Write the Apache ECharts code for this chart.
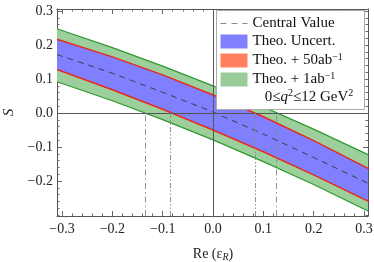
<!DOCTYPE html>
<html><head><meta charset="utf-8">
<script src="https://cdn.jsdelivr.net/npm/echarts@6/dist/echarts.min.js"></script>
<style>html,body{margin:0;padding:0;background:#fff}#c{width:374px;height:262px}</style>
</head><body><div id="c"></div><script>
// ---- data ----
const xs         = [-0.31, -0.2, -0.1, 0, 0.1, 0.2, 0.31];
const central    = [0.172, 0.117, 0.061, 0.003, -0.062, -0.131, -0.208];
const greenUpper = [0.248, 0.1925, 0.138, 0.080, 0.018, -0.0475, -0.124];
const redUpper   = [0.217, 0.165, 0.112, 0.053, -0.011, -0.081, -0.164];
const redLower   = [0.128, 0.0685, 0.011, -0.050, -0.114, -0.182, -0.261];
const greenLower = [0.092, 0.036, -0.0195, -0.079, -0.143, -0.2105, -0.290];
const crossX     = [-0.135, -0.084, 0.084, 0.125];
const crossDash  = [[6,3,1.5,3],[5,2,1.5,2,1.5,2],[5,2,1.5,2,1.5,2],[6,3,1.5,3]];
const xMajor = [-0.3, -0.2, -0.1, 0, 0.1, 0.2, 0.3];
const xMinor = [-0.28,-0.26,-0.24,-0.22,-0.18,-0.16,-0.14,-0.12,-0.08,-0.06,-0.04,-0.02,
                0.02,0.04,0.06,0.08,0.12,0.14,0.16,0.18,0.22,0.24,0.26,0.28];
const yMajor = [-0.2, -0.1, 0, 0.1, 0.2, 0.3];
const yMinor = [-0.3,-0.28,-0.26,-0.24,-0.22,-0.18,-0.16,-0.14,-0.12,-0.08,-0.06,-0.04,-0.02,
                0.02,0.04,0.06,0.08,0.12,0.14,0.16,0.18,0.22,0.24,0.26,0.28];
const X_MIN = -0.31, X_MAX = 0.308, Y_MIN = -0.303, Y_MAX = 0.306;

const pts = a => xs.map((x,i)=>[x,a[i]]);
const FONT = 'Liberation Serif';
const fmt = v => (v < 0 ? '\u2212' : '') + Math.abs(v).toFixed(1);

function xAx(pos, values, len, labels, line){
  return {type:'value', min:X_MIN, max:X_MAX, position:pos,
    axisLine:{show:line, onZero:false, lineStyle:{color:'#555', width:1}},
    splitLine:{show:false},
    axisTick:{show:true, inside:true, length:len, customValues:values, lineStyle:{color:'#666'}},
    axisLabel:{show:labels, customValues:values, formatter:fmt, fontFamily:FONT, fontSize:14, color:'#222', margin:6}};
}
function yAx(pos, values, len, labels, line){
  return {type:'value', min:Y_MIN, max:Y_MAX, position:pos,
    axisLine:{show:line, onZero:false, lineStyle:{color:'#555', width:1}},
    splitLine:{show:false},
    axisTick:{show:true, inside:true, length:len, customValues:values, lineStyle:{color:'#666'}},
    axisLabel:{show:labels, customValues:values, formatter:fmt, fontFamily:FONT, fontSize:14, color:'#222', margin:4}};
}
const xAxes = [xAx('bottom', xMajor, 5, true, true), xAx('bottom', xMinor, 2.5, false, false),
               xAx('top', xMajor, 5, false, true), xAx('top', xMinor, 2.5, false, false)];
const yAxes = [yAx('left', yMajor, 5, true, true), yAx('left', yMinor, 2.5, false, false),
               yAx('right', yMajor, 5, false, true), yAx('right', yMinor, 2.5, false, false)];
yAxes[0].name = 'S';
yAxes[0].nameLocation = 'middle';
yAxes[0].nameGap = 40;
yAxes[0].nameTextStyle = {fontFamily:FONT, fontStyle:'italic', fontSize:15, color:'#222'};

const GREEN_FILL = '#9ccf9c', GREEN_LINE = '#2f9a2f', BLUE_FILL = '#8080ff', RED_LINE = '#e8281e';
const noSym = {showSymbol:false, symbol:'none', smooth:false, silent:true, animation:false};

function band(name, upper, lower, color, z){
  return {type:'custom', name:name, data:[0], silent:true, animation:false, z:z, clip:true,
    renderItem:(params, api) => {
      const up = xs.map((x,i)=>api.coord([x, upper[i]]));
      const lo = xs.map((x,i)=>api.coord([x, lower[i]])).reverse();
      return {type:'polygon', shape:{points:up.concat(lo)}, style:{fill:color, stroke:null}};
    }};
}

const series = [
  band('Theo1', greenUpper, greenLower, GREEN_FILL, 1),
  band('Theo. Uncert.', redUpper, redLower, BLUE_FILL, 2),
  Object.assign({type:'line', name:'gUp', data:pts(greenUpper), lineStyle:{color:GREEN_LINE, width:1.2}, z:3}, noSym),
  Object.assign({type:'line', name:'gLo', data:pts(greenLower), lineStyle:{color:GREEN_LINE, width:1.2}, z:3}, noSym),
  Object.assign({type:'line', name:'Theo50', data:pts(redUpper), lineStyle:{color:RED_LINE, width:1.4}, z:3}, noSym),
  Object.assign({type:'line', name:'rLo', data:pts(redLower), lineStyle:{color:RED_LINE, width:1.4}, z:3}, noSym),
  Object.assign({type:'line', name:'Central Value', data:pts(central),
    lineStyle:{color:'#333', width:0.9, type:[6,5]}, z:3}, noSym),
  {type:'line', name:'refs', data:[], silent:true, animation:false, z:4,
    markLine:{symbol:'none', silent:true, animation:false, label:{show:false},
      data:[
        [{coord:[X_MIN,0], lineStyle:{color:'#555', width:1, type:'solid'}}, {coord:[X_MAX,0]}],
        [{coord:[0,Y_MIN], lineStyle:{color:'#555', width:1, type:'solid'}}, {coord:[0,Y_MAX]}]
      ].concat(crossX.map((x,i)=>[{coord:[x,Y_MIN], lineStyle:{color:'#888', width:0.9, type:crossDash[i]}}, {coord:[x,0]}]))
    }}
];

const chart = echarts.init(document.getElementById('c'), null, {renderer:'canvas'});
chart.setOption({
  animation:false,
  grid:{left:57, top:9, right:6, bottom:46, containLabel:false, outerBoundsMode:'none'},
  xAxis:xAxes, yAxis:yAxes,
  series:series,
  legend:{left:220, top:16, orient:'vertical', padding:0, itemGap:3, itemWidth:27, itemHeight:14,
    selectedMode:false, z:10,
    textStyle:{fontFamily:FONT, fontSize:15, color:'#111',
      rich:{sup:{fontFamily:FONT, fontSize:10, verticalAlign:'top', padding:[0,0,7,0]}}},
    formatter: n => ({Theo50:'Theo. + 50ab{sup|\u22121}', Theo1:'Theo. + 1ab{sup|\u22121}'}[n] || n),
    data:[
      {name:'Central Value', itemStyle:{opacity:0}, lineStyle:{color:'#888', width:1, type:[6,5]}},
      {name:'Theo. Uncert.', icon:'rect', itemStyle:{color:'#8080ff'}},
      {name:'Theo50', icon:'rect', itemStyle:{color:'#ff7f5f'}},
      {name:'Theo1', icon:'rect', itemStyle:{color:'#99cc99'}}
    ]},
  graphic:[
    {type:'rect', z:8, shape:{x:216.5, y:10.5, width:148, height:99}, style:{fill:'#fff', stroke:'#aaa', lineWidth:1}},
    {type:'text', z:9, x:309, y:97, style:{text:'0\u2264{i|q}{sup|2}\u226412 GeV{sup|2}', align:'center', verticalAlign:'middle',
      font:'15px "Liberation Serif"', fill:'#111',
      rich:{i:{fontFamily:FONT, fontStyle:'italic', fontSize:15}, sup:{fontFamily:FONT, fontSize:10, verticalAlign:'top', padding:[0,0,7,0]}}}},
    {type:'text', z:9, x:213, y:254, style:{text:'Re (\u03b5{sub|R})', align:'center', verticalAlign:'middle',
      font:'14px "Liberation Serif"', fill:'#222',
      rich:{sub:{fontFamily:FONT, fontStyle:'italic', fontSize:10, verticalAlign:'bottom', padding:[6,0,0,0]}}}}
  ]
});
</script></body></html>
